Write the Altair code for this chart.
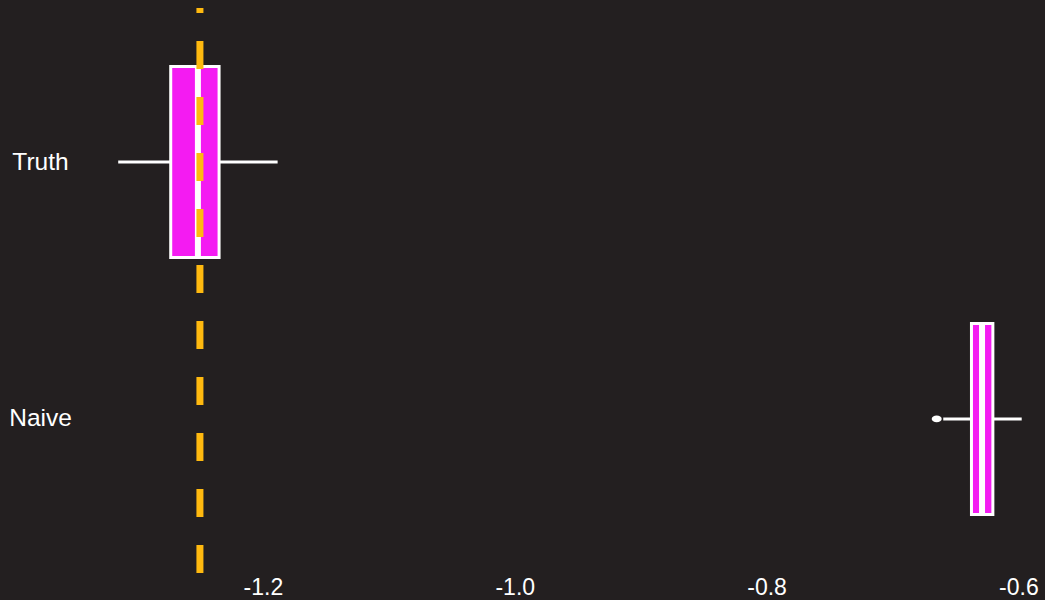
import altair as alt
import pandas as pd

# ---- data ----
categories = ["Truth", "Naive"]
whisker_lo = [-1.3149, -0.6597]
q1 = [-1.2732, -0.6373]
median = [-1.2516, -0.6289]
q3 = [-1.2348, -0.6203]
whisker_hi = [-1.1883, -0.5974]
outlier_cat = ["Naive"]
outlier_val = [-0.6649]
true_value = [-1.25]
tick_values = [-1.2, -1.0, -0.8, -0.6]

BG = "#231F20"
MAGENTA = "#F41BF2"
ORANGE = "#FFB90F"

box_df = pd.DataFrame({
    "method": categories, "lo": whisker_lo, "q1": q1,
    "med": median, "q3": q3, "hi": whisker_hi,
})
out_df = pd.DataFrame({"method": outlier_cat, "val": outlier_val})
vline_df = pd.DataFrame({"truth": true_value})

xscale = alt.Scale(domain=[-1.3508, -0.5789], nice=False, zero=False)
yscale = alt.Scale(type="point", domain=categories, padding=0.6)

xaxis = alt.Axis(
    values=tick_values, title=None, grid=False, ticks=False, domain=False,
    tickSize=0, labelPadding=21, labelBaseline="alphabetic", labelFlush=False,
    labelFontSize=23, labelColor="white", labelFont="Liberation Sans",
    labelExpr="(datum.value < 0 ? '-' : '') + format(abs(datum.value), '.1f')",
)
yaxis = alt.Axis(
    title=None, grid=False, ticks=False, domain=False, tickSize=0,
    labelAlign="center", labelPadding=33, labelFontSize=24.5,
    labelColor="white", labelFont="Liberation Sans",
)

base = alt.Chart(box_df)

whiskers = base.mark_rule(color="white", strokeWidth=3, strokeCap="butt").encode(
    x=alt.X("lo:Q", scale=xscale, axis=xaxis),
    x2="hi:Q",
    y=alt.Y("method:N", scale=yscale, axis=yaxis),
)

boxes = base.mark_bar(size=191, fill=MAGENTA, stroke="white", strokeWidth=3).encode(
    x=alt.X("q1:Q"), x2="q3:Q", y=alt.Y("method:N"),
)

medians = base.mark_tick(color="white", thickness=6, size=191, opacity=1).encode(
    x=alt.X("med:Q"), y=alt.Y("method:N"),
)

ellipse = "M -1 0 A 1 0.67 0 1 0 1 0 A 1 0.67 0 1 0 -1 0 Z"
outliers = alt.Chart(out_df).mark_point(
    shape=ellipse, size=100, filled=True, color="white", opacity=1
).encode(x=alt.X("val:Q"), y=alt.Y("method:N"))

vline = alt.Chart(vline_df).mark_rule(
    color=ORANGE, strokeWidth=7, strokeDash=[28, 28], strokeCap="butt"
).encode(x=alt.X("truth:Q"), y=alt.value(565), y2=alt.value(0))

chart = alt.layer(whiskers, boxes, medians, outliers, vline).properties(
    width=972, height=565,
    padding={"left": 73, "top": 8, "right": 0, "bottom": 27},
    autosize=alt.AutoSizeParams(type="none"),
    background=BG,
).configure_view(stroke=None)

chart.save("out.html", embed_options={"renderer": "svg", "actions": False})
